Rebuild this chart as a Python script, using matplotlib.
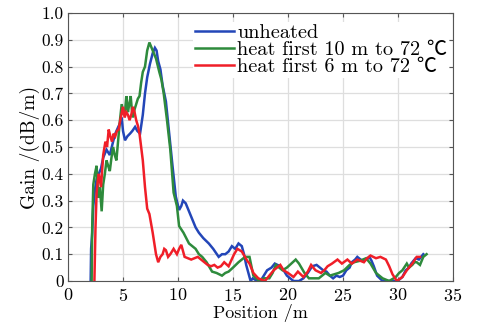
import matplotlib
matplotlib.use("Agg")
import matplotlib.pyplot as plt

plt.rcParams['font.family'] = ['cmr10', 'Noto Sans CJK SC', 'DejaVu Serif']
plt.rcParams['axes.formatter.use_mathtext'] = True
plt.rcParams['mathtext.fontset'] = 'cm'

# unheated
x_unheated = [2.06, 2.1, 2.2, 2.3, 2.45, 2.6, 2.8, 3.0, 3.2, 3.5, 3.8, 4.1, 4.3, 4.57, 4.75, 4.88, 5.0, 5.18,
              5.4, 5.64, 5.85, 6.1, 6.3, 6.55, 6.8, 7.0, 7.2, 7.45, 7.7, 7.9, 8.05, 8.2, 8.4, 8.6, 8.9, 9.2,
              9.5, 9.8, 10.1, 10.3, 10.45, 10.7, 11.0, 11.3, 11.6, 11.9, 12.3, 12.8, 13.2, 13.7, 14.0, 14.3,
              14.6, 14.9, 15.2, 15.5, 15.8, 16.0, 16.2, 16.4, 16.6, 16.8, 17.2, 17.5, 17.8, 18.1, 18.5, 18.8,
              19.3, 19.6, 19.9, 20.2, 20.5, 21.0, 21.4, 21.8, 22.2, 22.6, 22.9, 23.2, 23.5, 23.8, 24.1, 24.4,
              24.7, 25.0, 25.3, 25.6, 25.8, 26.1, 26.3, 26.6, 26.8, 27.1, 27.4, 27.6, 27.8, 28.1, 28.6, 29.2,
              29.8, 30.1, 30.4, 30.7, 31.0, 31.2, 31.4, 31.6, 31.9, 32.1, 32.3]
y_unheated = [0.0, 0.12, 0.18, 0.28, 0.34, 0.38, 0.40, 0.42, 0.46, 0.49, 0.47, 0.52, 0.55, 0.575, 0.59, 0.61,
              0.56, 0.525, 0.54, 0.55, 0.56, 0.575, 0.56, 0.55, 0.62, 0.70, 0.76, 0.81, 0.85, 0.87, 0.86, 0.82,
              0.79, 0.73, 0.67, 0.55, 0.43, 0.315, 0.265, 0.28, 0.30, 0.29, 0.26, 0.23, 0.20, 0.18, 0.16, 0.14,
              0.12, 0.09, 0.10, 0.10, 0.11, 0.13, 0.12, 0.14, 0.13, 0.10, 0.06, 0.03, 0.0, 0.01, 0.0, 0.0,
              0.02, 0.04, 0.05, 0.065, 0.055, 0.04, 0.02, 0.01, 0.0, 0.0, 0.01, 0.03, 0.055, 0.06, 0.05, 0.04,
              0.035, 0.02, 0.01, 0.02, 0.015, 0.02, 0.04, 0.05, 0.07, 0.08, 0.09, 0.08, 0.075, 0.08, 0.09,
              0.075, 0.055, 0.02, 0.0, 0.0, 0.0, 0.005, 0.015, 0.04, 0.05, 0.065, 0.075, 0.085, 0.08, 0.09, 0.10]

# heat first 10 m to 72 C
x_heat10 = [2.15, 2.2, 2.3, 2.45, 2.6, 2.75, 2.9, 3.06, 3.2, 3.35, 3.5, 3.65, 3.8, 3.95, 4.1, 4.25, 4.4, 4.55,
            4.7, 4.88, 5.05, 5.2, 5.3, 5.45, 5.57, 5.7, 5.8, 5.9, 6.05, 6.2, 6.35, 6.5, 6.65, 6.8, 7.0, 7.2,
            7.4, 7.6, 7.8, 8.0, 8.3, 8.5, 8.7, 9.0, 9.3, 9.6, 9.9, 10.1, 10.5, 10.75, 11.0, 11.3, 11.6, 11.9,
            12.2, 12.6, 13.1, 13.5, 14.0, 14.3, 14.6, 15.0, 15.5, 15.8, 16.1, 16.5, 16.85, 17.1, 17.4, 17.8,
            18.3, 18.6, 18.9, 19.2, 19.5, 19.9, 20.3, 20.7, 21.0, 21.5, 21.9, 22.3, 22.8, 23.1, 23.4, 23.8,
            24.2, 24.6, 25.1, 25.6, 26.0, 26.5, 26.8, 27.1, 27.5, 28.0, 28.6, 29.2, 29.8, 30.1, 30.4, 30.8,
            31.0, 31.3, 31.5, 31.7, 32.0, 32.3, 32.6]
y_heat10 = [0.0, 0.2, 0.36, 0.40, 0.43, 0.31, 0.35, 0.26, 0.36, 0.40, 0.45, 0.43, 0.41, 0.46, 0.50, 0.47,
            0.45, 0.52, 0.59, 0.66, 0.62, 0.64, 0.69, 0.63, 0.66, 0.69, 0.64, 0.61, 0.64, 0.66, 0.68, 0.69,
            0.74, 0.78, 0.80, 0.86, 0.89, 0.87, 0.85, 0.83, 0.78, 0.75, 0.70, 0.60, 0.49, 0.33, 0.28, 0.205,
            0.18, 0.16, 0.14, 0.13, 0.12, 0.10, 0.09, 0.07, 0.035, 0.03, 0.02, 0.03, 0.035, 0.05, 0.07, 0.08,
            0.09, 0.09, 0.02, 0.01, 0.0, 0.01, 0.01, 0.03, 0.06, 0.05, 0.04, 0.05, 0.065, 0.08, 0.065, 0.03,
            0.01, 0.01, 0.01, 0.02, 0.03, 0.02, 0.025, 0.03, 0.04, 0.06, 0.07, 0.075, 0.08, 0.085, 0.065,
            0.03, 0.01, 0.0, 0.015, 0.03, 0.04, 0.065, 0.05, 0.06, 0.07, 0.07, 0.06, 0.09, 0.10]

# heat first 6 m to 72 C
x_heat6 = [2.4, 2.5, 2.6, 2.7, 2.8, 3.0, 3.2, 3.4, 3.55, 3.7, 3.85, 4.0, 4.15, 4.3, 4.45, 4.6, 4.75, 4.9,
           5.0, 5.15, 5.3, 5.45, 5.6, 5.75, 5.9, 6.05, 6.2, 6.35, 6.5, 6.8, 7.0, 7.2, 7.4, 7.7, 8.0, 8.2,
           8.4, 8.6, 8.75, 8.9, 9.1, 9.3, 9.6, 9.9, 10.1, 10.3, 10.6, 10.9, 11.2, 11.5, 11.8, 12.1, 12.4,
           12.7, 13.0, 13.3, 13.6, 13.9, 14.2, 14.6, 15.1, 15.4, 15.8, 16.3, 16.5, 16.85, 17.3, 17.9, 18.3,
           18.7, 19.0, 19.3, 19.6, 20.0, 20.5, 20.9, 21.4, 21.8, 22.1, 22.5, 23.0, 23.3, 23.6, 24.0, 24.5,
           24.9, 25.4, 25.8, 26.3, 26.9, 27.2, 27.5, 28.0, 28.4, 28.9, 29.2, 29.5, 29.9, 30.4, 30.8, 31.3,
           31.7, 32.0]
y_heat6 = [0.0, 0.2, 0.33, 0.37, 0.40, 0.35, 0.47, 0.52, 0.50, 0.565, 0.54, 0.52, 0.55, 0.54, 0.56, 0.565,
           0.60, 0.63, 0.65, 0.61, 0.63, 0.62, 0.60, 0.62, 0.65, 0.63, 0.60, 0.58, 0.55, 0.45, 0.35, 0.27,
           0.25, 0.18, 0.10, 0.07, 0.09, 0.10, 0.12, 0.115, 0.09, 0.10, 0.12, 0.10, 0.12, 0.135, 0.09, 0.085,
           0.08, 0.085, 0.09, 0.08, 0.07, 0.06, 0.055, 0.06, 0.05, 0.055, 0.07, 0.055, 0.10, 0.12, 0.11,
           0.075, 0.065, 0.03, 0.01, 0.0, 0.02, 0.04, 0.05, 0.06, 0.04, 0.03, 0.015, 0.035, 0.015, 0.035,
           0.06, 0.04, 0.03, 0.04, 0.055, 0.065, 0.08, 0.065, 0.08, 0.065, 0.08, 0.07, 0.085, 0.095, 0.085,
           0.09, 0.08, 0.055, 0.025, 0.0, 0.015, 0.04, 0.065, 0.09, 0.09]

series_labels = ["unheated", "heat first 10 m to 72 \u2103", "heat first 6 m to 72 \u2103"]
series_colors = ["#2346b8", "#2e8b3c", "#f01e28"]

xticks = [0, 5, 10, 15, 20, 25, 30, 35]
yticks = [0, 0.1, 0.2, 0.3, 0.4, 0.5, 0.6, 0.7, 0.8, 0.9, 1.0]
ytick_labels = ["0", "0.1", "0.2", "0.3", "0.4", "0.5", "0.6", "0.7", "0.8", "0.9", "1.0"]

fig = plt.figure(figsize=(4.81, 3.34), dpi=100)
ax = fig.add_axes([68 / 481, 53 / 334, 385 / 481, 268 / 334])

for xs, ys, lab, col in zip([x_unheated, x_heat10, x_heat6], [y_unheated, y_heat10, y_heat6],
                            series_labels, series_colors):
    ax.plot(xs, ys, color=col, lw=1.8, label=lab, solid_joinstyle='miter')

ax.set_xlim(0, 35)
ax.set_ylim(0, 1.0)
ax.set_xticks(xticks)
ax.set_yticks(yticks)
ax.set_yticklabels(ytick_labels)
ax.grid(True, color="#dedede", lw=0.9)
ax.set_axisbelow(True)
ax.tick_params(direction='in', length=3, width=0.8, top=True, right=True, colors='#555555',
               labelcolor='black')
ax.tick_params(axis='x', labelsize=13, pad=4)
ax.tick_params(axis='y', labelsize=12.5, pad=3)
for s in ax.spines.values():
    s.set_color('#555555')
    s.set_linewidth(0.8)

ax.set_xlabel("Position /m", fontsize=13, labelpad=0)
ax.set_ylabel("Gain /(dB/m)", fontsize=14, labelpad=1)

leg = ax.legend(loc='upper right', bbox_to_anchor=(0.99, 0.967), frameon=True, fontsize=14.6,
                handlelength=1.9, handletextpad=0.15, borderpad=0.1, labelspacing=-0.05,
                borderaxespad=0, fancybox=False)
leg.get_frame().set_facecolor('white')
leg.get_frame().set_edgecolor('none')
leg.get_frame().set_alpha(1.0)

fig.savefig("out.png", dpi=100)
